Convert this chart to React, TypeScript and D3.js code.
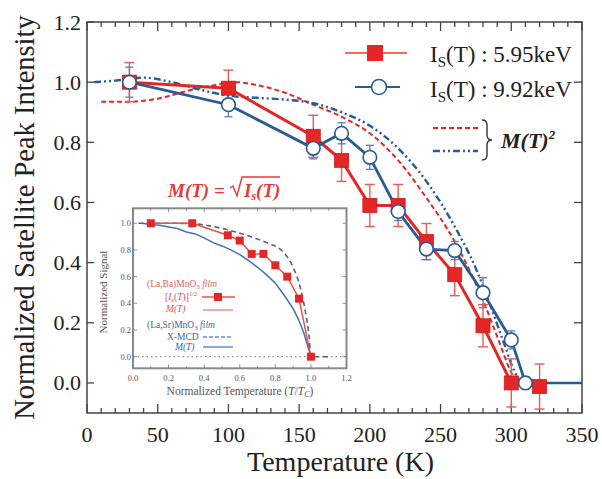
import React from 'react';
import * as d3 from 'd3';

// ---- main chart data ----
const redT = [30, 100, 160, 180, 200, 220, 240, 260, 280, 300, 320];
const redV = [1.0, 0.98, 0.82, 0.74, 0.59, 0.59, 0.47, 0.36, 0.19, 0.0, -0.012];
const redErr = [0.065, 0.06, 0.07, 0.07, 0.07, 0.07, 0.06, 0.07, 0.07, 0.08, 0.075];

const blueT = [30, 100, 160, 180, 200, 220, 240, 260, 280, 300, 310];
const blueV = [1.0, 0.925, 0.78, 0.83, 0.75, 0.57, 0.445, 0.44, 0.30, 0.143, 0.0];
const blueErr = [0.05, 0.04, 0.035, 0.035, 0.04, 0.03, 0.035, 0.03, 0.05, 0.03, 0.02];
const blueTailT = [310, 350];
const blueTailV = [0.0, 0.0];

const mRedT = [10, 30, 50, 70, 90, 105, 120, 140, 160, 180, 200, 220, 240, 260, 280, 290, 300, 305];
const mRedV = [0.935, 0.935, 0.945, 0.97, 0.99, 1.0, 0.99, 0.965, 0.925, 0.885, 0.83, 0.74, 0.615, 0.47, 0.275, 0.155, 0.035, 0.0];

const mBlueT = [5, 20, 40, 60, 80, 100, 120, 140, 160, 180, 200, 220, 240, 260, 275, 285, 295, 302, 307];
const mBlueV = [1.0, 1.005, 1.015, 1.0, 0.975, 0.955, 0.948, 0.942, 0.93, 0.9, 0.855, 0.78, 0.67, 0.52, 0.38, 0.26, 0.13, 0.04, 0.0];

const xTicks = [0, 50, 100, 150, 200, 250, 300, 350];
const xTickLabels = ['0', '50', '100', '150', '200', '250', '300', '350'];
const yTicks = [0, 0.2, 0.4, 0.6, 0.8, 1.0, 1.2];
const yTickLabels = ['0.0', '0.2', '0.4', '0.6', '0.8', '1.0', '1.2'];

// ---- inset data ----
const insetSqX = [0.1, 0.333, 0.533, 0.6, 0.667, 0.733, 0.8, 0.867, 0.933, 1.0];
const insetSqV = [1.0, 1.0, 0.91, 0.87, 0.77, 0.77, 0.685, 0.6, 0.435, 0.0];

const insetDashX = [0.03, 0.2, 0.35, 0.45, 0.55, 0.66, 0.75, 0.84, 0.9, 0.94, 0.97, 0.99, 1.0, 1.1];
const insetDashV = [1.0, 1.0, 0.995, 0.975, 0.945, 0.9, 0.855, 0.79, 0.67, 0.52, 0.33, 0.15, 0.0, 0.0];

const insetBlueX = [0.05, 0.1, 0.15, 0.2, 0.25, 0.3, 0.35, 0.4, 0.45, 0.5, 0.55, 0.6, 0.65, 0.7, 0.75, 0.8, 0.85, 0.9, 0.93, 0.96, 0.98, 1.0];
const insetBlueV = [1.0, 0.99, 0.985, 0.972, 0.96, 0.935, 0.92, 0.89, 0.855, 0.83, 0.8, 0.765, 0.72, 0.67, 0.615, 0.55, 0.46, 0.36, 0.28, 0.18, 0.09, 0.0];

const insetXTicks = [0, 0.2, 0.4, 0.6, 0.8, 1.0, 1.2];
const insetXTickLabels = ['0.0', '0.2', '0.4', '0.6', '0.8', '1.0', '1.2'];
const insetYTicks = [0, 0.2, 0.4, 0.6, 0.8, 1.0];
const insetYTickLabels = ['0.0', '0.2', '0.4', '0.6', '0.8', '1.0'];

const RED = '#e42726';
const BLUE = '#2a5b93';
const FF = 'Liberation Serif';

export default function App() {
  const W = 602, H = 479;
  const x = d3.scaleLinear().domain([0, 350]).range([87, 582]);
  const y = d3.scaleLinear().domain([-0.1, 1.2]).range([413, 22]);
  const [x0, x1] = x.range();
  const [yb, yt] = y.range();

  const lin = d3.line<[number, number]>().x(d => x(d[0])).y(d => y(d[1]));
  const smooth = d3.line<[number, number]>().x(d => x(d[0])).y(d => y(d[1])).curve(d3.curveMonotoneX);
  const zip = (a: number[], b: number[]) => a.map((v, i) => [v, b[i]] as [number, number]);

  const minorX = d3.range(0, 351, 10);

  // inset scales
  const ix = d3.scaleLinear().domain([0, 1.2]).range([133, 346.5]);
  const iy = d3.scaleLinear().domain([-0.087, 1.112]).range([368.3, 208.3]);
  const ilin = d3.line<[number, number]>().x(d => ix(d[0])).y(d => iy(d[1]));
  const ismooth = d3.line<[number, number]>().x(d => ix(d[0])).y(d => iy(d[1])).curve(d3.curveMonotoneX);
  const iMinorX = d3.range(0, 1.21, 0.1);

  const sq = 14;
  return (
    <svg width={W} height={H} style={{ position: 'absolute', left: 0, top: 0, background: '#fff' }} fontFamily={FF}>
      <rect x={0} y={0} width={W} height={H} fill="#fff" />
      {/* frame */}
      <rect x={x0} y={yt} width={x1 - x0} height={yb - yt} fill="none" stroke="#444" strokeWidth={1.5} />
      {/* x ticks */}
      {minorX.map(t => {
        const major = t % 50 === 0;
        const len = major ? 9 : 5;
        return (
          <g key={'xt' + t}>
            <line x1={x(t)} x2={x(t)} y1={yb} y2={yb - len} stroke="#444" strokeWidth={1.3} />
            <line x1={x(t)} x2={x(t)} y1={yt} y2={yt + len} stroke="#444" strokeWidth={1.3} />
          </g>
        );
      })}
      {xTicks.map((t, i) => (
        <text key={'xl' + t} fontFamily={FF} x={x(t)} y={442} textAnchor="middle" fontSize={22} fill="#222">{xTickLabels[i]}</text>
      ))}
      {yTicks.map((t, i) => (
        <g key={'yt' + t}>
          <line x1={x0} x2={x0 + 7} y1={y(t)} y2={y(t)} stroke="#444" strokeWidth={1.3} />
          <line x1={x1} x2={x1 - 8} y1={y(t)} y2={y(t)} stroke="#444" strokeWidth={1.3} />
          <text fontFamily={FF} x={81} y={y(t) + 7.5} textAnchor="end" fontSize={22} fill="#222">{yTickLabels[i]}</text>
        </g>
      ))}
      <text fontFamily={FF} x={(x0 + x1) / 2 + 6} y={471} textAnchor="middle" fontSize={28} fill="#222">Temperature (K)</text>
      <text fontFamily={FF} transform={`translate(34,${(yt + yb) / 2}) rotate(-90)`} textAnchor="middle" fontSize={28.5} fill="#222">Normalized Satellite Peak Intensity</text>

      {/* M(T)^2 curves */}
      <path d={smooth(zip(mRedT, mRedV)) || ''} fill="none" stroke={RED} strokeWidth={2} strokeDasharray="5,3" />
      <path d={smooth(zip(mBlueT, mBlueV)) || ''} fill="none" stroke={BLUE} strokeWidth={2.4} strokeDasharray="7,3,2,3,2,3" />

      {/* data lines */}
      <path d={lin(zip(redT, redV)) || ''} fill="none" stroke={RED} strokeWidth={3} />
      <path d={lin(zip(blueT, blueV)) || ''} fill="none" stroke={BLUE} strokeWidth={2.8} />
      <path d={lin(zip(blueTailT, blueTailV)) || ''} fill="none" stroke={BLUE} strokeWidth={2.5} />

      {/* error bars */}
      {redT.map((t, i) => (
        <g key={'re' + i} stroke="#ec5a55" strokeWidth={1.4}>
          <line x1={x(t)} x2={x(t)} y1={y(redV[i] - redErr[i])} y2={y(redV[i] + redErr[i])} />
          <line x1={x(t) - 5} x2={x(t) + 5} y1={y(redV[i] - redErr[i])} y2={y(redV[i] - redErr[i])} />
          <line x1={x(t) - 5} x2={x(t) + 5} y1={y(redV[i] + redErr[i])} y2={y(redV[i] + redErr[i])} />
        </g>
      ))}
      {blueT.map((t, i) => (
        <g key={'be' + i} stroke="#5a7fae" strokeWidth={1.3}>
          <line x1={x(t)} x2={x(t)} y1={y(blueV[i] - blueErr[i])} y2={y(blueV[i] + blueErr[i])} />
          <line x1={x(t) - 4} x2={x(t) + 4} y1={y(blueV[i] - blueErr[i])} y2={y(blueV[i] - blueErr[i])} />
          <line x1={x(t) - 4} x2={x(t) + 4} y1={y(blueV[i] + blueErr[i])} y2={y(blueV[i] + blueErr[i])} />
        </g>
      ))}
      {/* markers */}
      {redT.map((t, i) => (
        <rect key={'rs' + i} x={x(t) - sq / 2} y={y(redV[i]) - sq / 2} width={sq} height={sq} fill={RED} stroke="#d01818" strokeWidth={0.8} />
      ))}
      {blueT.map((t, i) => (
        <circle key={'bc' + i} cx={x(t)} cy={y(blueV[i])} r={6.8} fill="#fff" stroke={BLUE} strokeWidth={1.6} />
      ))}

      {/* legend */}
      <line x1={345} x2={407} y1={53} y2={53} stroke="#ef6b66" strokeWidth={2.2} />
      <rect x={375 - 8} y={53 - 8} width={16} height={16} fill={RED} />
      <text fontFamily={FF} x={430} y={62} fontSize={23} fill="#222">I<tspan fontSize={15} dy={5}>S</tspan><tspan dy={-5}>(T) : 5.95keV</tspan></text>
      <line x1={355} x2={400} y1={87} y2={87} stroke={BLUE} strokeWidth={1.8} />
      <circle cx={379} cy={87} r={7.5} fill="#fff" stroke={BLUE} strokeWidth={1.6} />
      <text fontFamily={FF} x={430} y={97} fontSize={23} fill="#222">I<tspan fontSize={15} dy={5}>S</tspan><tspan dy={-5}>(T) : 9.92keV</tspan></text>
      <line x1={433} x2={478} y1={128} y2={128} stroke={RED} strokeWidth={2} strokeDasharray="5,3" />
      <line x1={433} x2={478} y1={151} y2={151} stroke={BLUE} strokeWidth={2.4} strokeDasharray="7,3,2,3,2,3" />
      <path d="M482,120 q5,0 5,5 v10 q0,5 5,5 q-5,0 -5,5 v10 q0,5 -5,5" fill="none" stroke="#333" strokeWidth={1.4} />
      <text fontFamily={FF} x={501} y={148} fontSize={22} fontWeight="bold" fontStyle="italic" fill="#222">M(T)<tspan fontSize={13} dy={-9}>2</tspan></text>

      {/* annotation */}
      <text fontFamily={FF} x={168} y={197} fontSize={19} fontWeight="bold" fontStyle="italic" fill="#e23a3a">M(T) = </text>
      <path d="M230,188 l3,-2 l4,10 l5,-19 h38" fill="none" stroke="#e23a3a" strokeWidth={1.4} />
      <text fontFamily={FF} x={244} y={197} fontSize={19} fontWeight="bold" fontStyle="italic" fill="#e23a3a">I<tspan fontSize={12} dy={3}>s</tspan><tspan dy={-3}>(T)</tspan></text>

      {/* inset */}
      <rect x={ix(0)} y={iy(1.112)} width={ix(1.2) - ix(0)} height={iy(-0.087) - iy(1.112)} fill="#fff" stroke="#8a8a8a" strokeWidth={2} />
      {iMinorX.map((t, i) => {
        const len = i % 2 === 0 ? 4 : 2.5;
        return (
          <g key={'ixt' + i} stroke="#777" strokeWidth={0.8}>
            <line x1={ix(t)} x2={ix(t)} y1={iy(-0.087)} y2={iy(-0.087) - len} />
            <line x1={ix(t)} x2={ix(t)} y1={iy(1.112)} y2={iy(1.112) + len} />
          </g>
        );
      })}
      {insetYTicks.map((t, i) => (
        <g key={'iyt' + i}>
          <line x1={ix(0)} x2={ix(0) + 4} y1={iy(t)} y2={iy(t)} stroke="#777" strokeWidth={0.8} />
          <line x1={ix(1.2)} x2={ix(1.2) - 4} y1={iy(t)} y2={iy(t)} stroke="#777" strokeWidth={0.8} />
          <text fontFamily={FF} x={ix(0) - 2} y={iy(t) + 3} textAnchor="end" fontSize={8.5} fill="#555">{insetYTickLabels[i]}</text>
        </g>
      ))}
      {insetXTicks.map((t, i) => (
        <text key={'ixl' + i} fontFamily={FF} x={ix(t)} y={381} textAnchor="middle" fontSize={8.5} fill="#555">{insetXTickLabels[i]}</text>
      ))}
      <text fontFamily={FF} x={240} y={395} textAnchor="middle" fontSize={11.5} fill="#555">Normalized Temperature (<tspan fontStyle="italic">T</tspan>/<tspan fontStyle="italic">T</tspan><tspan fontSize={8} dy={2} fontStyle="italic">C</tspan><tspan dy={-2}>)</tspan></text>
      <text fontFamily={FF} transform={`translate(107,292) rotate(-90)`} textAnchor="middle" fontSize={11} fill="#555">Normalized Signal</text>

      {/* zero dotted line */}
      <line x1={ix(0)} x2={ix(1.2)} y1={iy(0)} y2={iy(0)} stroke="#777" strokeWidth={1} strokeDasharray="1.5,3" />
      <path d={ilin(zip(insetBlueX, insetBlueV)) || ''} fill="none" stroke="#3c73b4" strokeWidth={1.5} />
      <path d={ismooth(zip(insetDashX, insetDashV)) || ''} fill="none" stroke="#5c6478" strokeWidth={1.6} strokeDasharray="5,3.5" />
      <path d={ilin(zip(insetSqX, insetSqV)) || ''} fill="none" stroke="#e8504a" strokeWidth={1.5} />
      {insetSqX.map((t, i) => (
        <rect key={'is' + i} x={ix(t) - 4} y={iy(insetSqV[i]) - 4} width={8} height={8} fill={RED} />
      ))}

      {/* inset legend */}
      <text fontFamily={FF} x={147} y={287} fontSize={9.5} fill="#e8605a">(La,Ba)MnO<tspan fontSize={7} dy={2}>3</tspan><tspan dy={-2} fontStyle="italic"> film</tspan></text>
      <text fontFamily={FF} x={165} y={300} fontSize={9.5} fill="#e8504a">[<tspan fontStyle="italic">I</tspan><tspan fontSize={7} dy={2}>s</tspan><tspan dy={-2}>(</tspan><tspan fontStyle="italic">T</tspan>)]<tspan fontSize={6.5} dy={-4}>1/2</tspan></text>
      <line x1={202} x2={235} y1={297} y2={297} stroke="#e8504a" strokeWidth={1.5} />
      <rect x={214} y={293} width={8} height={8} fill={RED} />
      <text fontFamily={FF} x={166} y={312} fontSize={9.5} fontStyle="italic" fill="#e8504a">M(T)</text>
      <line x1={203} x2={233} y1={310} y2={310} stroke="#ef8e8a" strokeWidth={1.5} />
      <text fontFamily={FF} x={147} y={328} fontSize={9.5} fill="#3a68a8">(La,Sr)MnO<tspan fontSize={7} dy={2}>3</tspan><tspan dy={-2} fontStyle="italic"> film</tspan></text>
      <text fontFamily={FF} x={167} y={340} fontSize={9.5} fill="#3a68a8">X-MCD</text>
      <line x1={203} x2={233} y1={337} y2={337} stroke="#6a8cc0" strokeWidth={1.3} strokeDasharray="4,2" />
      <text fontFamily={FF} x={175} y={350} fontSize={9.5} fontStyle="italic" fill="#3a68a8">M(T)</text>
      <line x1={203} x2={233} y1={347} y2={347} stroke="#6a8cc0" strokeWidth={1.5} />
    </svg>
  );
}
